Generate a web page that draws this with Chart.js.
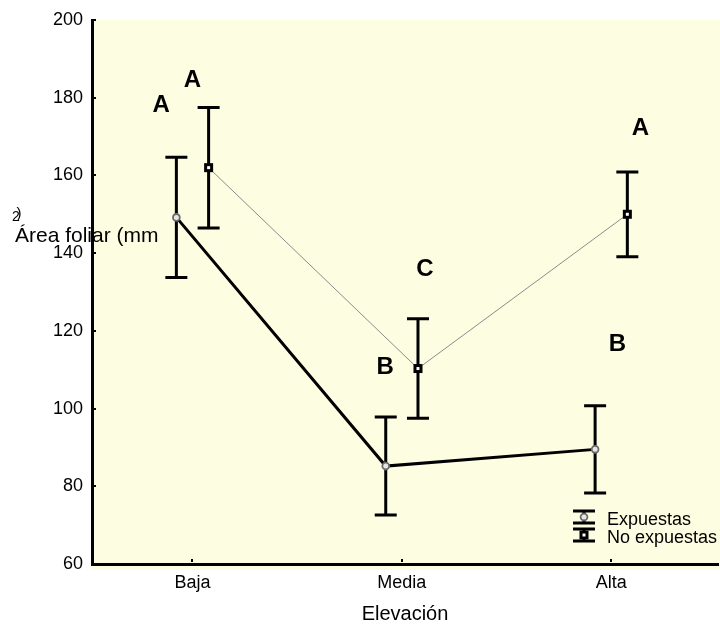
<!DOCTYPE html>
<html lang="es">
<head>
<meta charset="UTF-8">
<title>Área foliar por elevación</title>
<script src="https://cdn.jsdelivr.net/npm/chart.js"></script>
<style>
  html, body { margin: 0; padding: 0; background: #fff; }
</style>
</head>
<body>
<canvas id="areaChart" width="720" height="624"></canvas>
<script>
// medias y error por nivel de elevación
const elevaciones = ['Baja', 'Media', 'Alta'];
const expuestas = [149.2, 85.2, 89.5];
const expuestasErr = [15.5, 12.6, 11.2];
const noExpuestas = [162.0, 110.3, 150.0];
const noExpuestasErr = [15.5, 12.8, 10.9];
const yTicks = [60, 80, 100, 120, 140, 160, 180, 200];

// letras de comparación de medias (posición en unidades del gráfico)
const letrasExp = ['A', 'B', 'B'];
const letrasExpX = [0.85, 1.92, 3.03];
const letrasExpY = [178, 110.5, 116.5];
const letrasNoExp = ['A', 'C', 'A'];
const letrasNoExpX = [1.0, 2.11, 3.14];
const letrasNoExpY = [184.5, 135.7, 172];

const FUENTE = "'Liberation Sans', Arial, sans-serif";
const FONDO = '#fdfde1';
const separacion = 0.077;

function puntos(valores, dx) {
    return valores.map((v, i) => ({x: i + 1 + dx, y: v}));
}

function dibujarMarcador(ctx, tipo, x, y) {
    ctx.save();
    if (tipo === 'circulo') {
        ctx.beginPath();
        ctx.arc(x, y, 3.4, 0, Math.PI * 2);
        ctx.fillStyle = '#e6e6e6';
        ctx.fill();
        ctx.lineWidth = 1.8;
        ctx.strokeStyle = '#6a6a6a';
        ctx.stroke();
    } else {
        ctx.fillStyle = '#000';
        ctx.fillRect(x - 4.5, y - 4.5, 9, 9);
        ctx.fillStyle = '#fff';
        ctx.fillRect(x - 1.5, y - 1.5, 3, 3);
    }
    ctx.restore();
}

function dibujarBarra(ctx, x, yTop, yBot, ancho) {
    ctx.beginPath();
    ctx.moveTo(x, yTop);
    ctx.lineTo(x, yBot);
    ctx.moveTo(x - ancho, yTop);
    ctx.lineTo(x + ancho, yTop);
    ctx.moveTo(x - ancho, yBot);
    ctx.lineTo(x + ancho, yBot);
    ctx.stroke();
}

const fondoYEtiqueta = {
    id: 'fondoYEtiqueta',
    beforeDraw(chart) {
        const {ctx, chartArea: a} = chart;
        ctx.save();
        ctx.fillStyle = FONDO;
        ctx.fillRect(a.left, a.top, a.right - a.left + 2, a.bottom - a.top + 6);

        // título del eje Y, horizontal y sobre el eje
        ctx.fillStyle = '#000';
        ctx.textBaseline = 'alphabetic';
        ctx.textAlign = 'left';
        ctx.font = '21px ' + FUENTE;
        ctx.fillText('Área foliar (mm', 15, 242);
        ctx.font = '14px ' + FUENTE;
        ctx.fillText('2', 12, 221);
        ctx.font = '15px ' + FUENTE;
        ctx.fillText(')', 16.5, 218);
        ctx.restore();
    },
    afterDraw(chart) {
        // marcas cortas de los ejes, hacia dentro
        const {ctx, chartArea: a, scales: {x, y}} = chart;
        ctx.save();
        ctx.fillStyle = '#000';
        x.ticks.forEach(t => ctx.fillRect(Math.round(x.getPixelForValue(t.value)) - 1, a.bottom - 5, 2, 3));
        y.ticks.forEach(t => ctx.fillRect(a.left + 1, Math.round(y.getPixelForValue(t.value)) - 1, 3, 2));
        ctx.restore();
    }
};

const barrasError = {
    id: 'barrasError',
    beforeDatasetsDraw(chart) {
        const {ctx, scales: {y}} = chart;
        ctx.save();
        ctx.strokeStyle = '#000';
        ctx.lineWidth = 3;
        chart.data.datasets.forEach((ds, di) => {
            const meta = chart.getDatasetMeta(di);
            meta.data.forEach((pt, i) => {
                const v = ds.data[i].y;
                const e = ds.err[i];
                dibujarBarra(ctx, pt.x, y.getPixelForValue(v + e), y.getPixelForValue(v - e), 11);
            });
        });
        ctx.restore();
    },
    afterDatasetsDraw(chart) {
        const {ctx, scales: {x, y}} = chart;
        chart.data.datasets.forEach((ds, di) => {
            chart.getDatasetMeta(di).data.forEach(pt => dibujarMarcador(ctx, ds.marcador, pt.x, pt.y));
        });

        ctx.save();
        ctx.fillStyle = '#000';
        ctx.font = 'bold 24px ' + FUENTE;
        ctx.textAlign = 'center';
        ctx.textBaseline = 'middle';
        letrasExp.forEach((l, i) => ctx.fillText(l, x.getPixelForValue(letrasExpX[i]), y.getPixelForValue(letrasExpY[i])));
        letrasNoExp.forEach((l, i) => ctx.fillText(l, x.getPixelForValue(letrasNoExpX[i]), y.getPixelForValue(letrasNoExpY[i])));
        ctx.restore();
    },
    afterDraw(chart) {
        // leyenda en la esquina inferior derecha
        const {ctx, chartArea: a} = chart;
        const tx = a.right - 111;
        const ix = tx - 23;
        ctx.save();
        ctx.font = '18px ' + FUENTE;
        ctx.fillStyle = '#000';
        ctx.textAlign = 'left';
        ctx.textBaseline = 'alphabetic';
        chart.data.datasets.forEach((ds, i) => {
            const base = a.bottom - 39 + i * 18;
            const cy = base - 8;
            ctx.strokeStyle = '#000';
            ctx.lineWidth = 3;
            dibujarBarra(ctx, ix, cy - 6, cy + 6, 11);
            dibujarMarcador(ctx, ds.marcador, ix, cy);
            ctx.fillText(ds.label, tx, base);
        });
        ctx.restore();
    }
};

new Chart(document.getElementById('areaChart'), {
    type: 'line',
    data: {
        datasets: [
            {
                label: 'Expuestas',
                data: puntos(expuestas, -separacion),
                err: expuestasErr,
                marcador: 'circulo',
                borderColor: '#000',
                borderWidth: 3,
                pointRadius: 0
            },
            {
                label: 'No expuestas',
                data: puntos(noExpuestas, separacion),
                err: noExpuestasErr,
                marcador: 'cuadro',
                borderColor: '#8c8c8c',
                borderWidth: 1,
                pointRadius: 0
            }
        ]
    },
    options: {
        responsive: false,
        animation: false,
        layout: {padding: {top: 20, right: 2, left: 0, bottom: 0}},
        plugins: {
            legend: {display: false},
            tooltip: {enabled: false}
        },
        scales: {
            x: {
                type: 'linear',
                min: 0.52,
                max: 3.51,
                afterBuildTicks: s => { s.ticks = elevaciones.map((_, i) => ({value: i + 1})); },
                afterFit: s => { s.height = 60; },
                grid: {display: false, drawTicks: false},
                border: {display: true, color: '#000', width: 3},
                ticks: {
                    padding: 8,
                    color: '#000',
                    font: {family: FUENTE, size: 18},
                    callback: v => elevaciones[v - 1]
                },
                title: {
                    display: true,
                    text: 'Elevación',
                    color: '#000',
                    font: {family: FUENTE, size: 20, lineHeight: 1.0},
                    padding: {top: 0, bottom: 0}
                }
            },
            y: {
                min: 60,
                max: 200,
                afterBuildTicks: s => { s.ticks = yTicks.map(v => ({value: v})); },
                afterFit: s => { s.width = 92; },
                grid: {display: false, drawTicks: false},
                border: {display: true, color: '#000', width: 3},
                ticks: {
                    padding: 9,
                    color: '#000',
                    font: {family: FUENTE, size: 18}
                }
            }
        }
    },
    plugins: [fondoYEtiqueta, barrasError]
});
</script>
</body>
</html>
